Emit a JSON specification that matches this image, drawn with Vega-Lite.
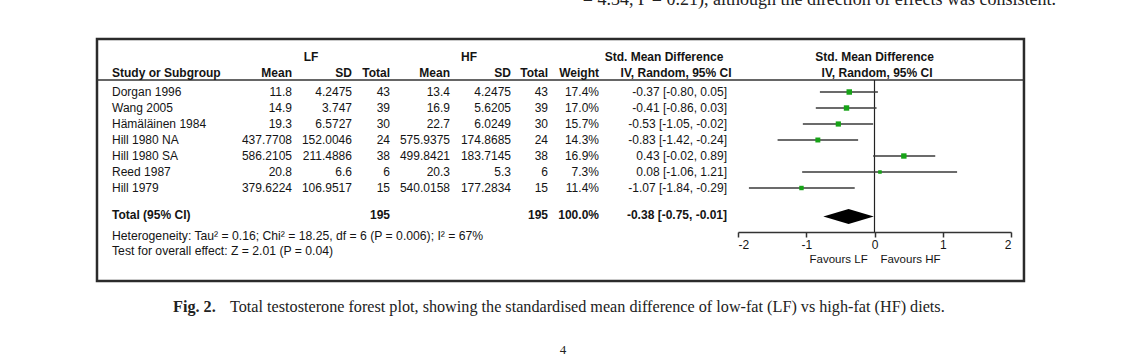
{
  "$schema": "https://vega.github.io/schema/vega-lite/v6.json",
  "width": 1124,
  "height": 358,
  "autosize": {"type": "none"},
  "padding": 0,
  "background": "white",
  "config": {
    "view": {"stroke": null},
    "text": {"font": "Liberation Sans", "fontSize": 12, "baseline": "middle", "color": "#141414"}
  },
  "resolve": {"axis": {"x": "independent", "y": "independent"}},
  "data": {"values": [{"t": "static"}]},
  "datasets": {
    "studies": [
      {"study": "Dorgan 1996", "order": 1, "lf_mean": 11.8, "lf_sd": 4.2475, "lf_n": 43, "hf_mean": 13.4, "hf_sd": 4.2475, "hf_n": 43, "weight": 0.174, "smd": -0.37, "lo": -0.80, "hi": 0.05, "ci": "-0.37 [-0.80, 0.05]"},
      {"study": "Wang 2005", "order": 2, "lf_mean": 14.9, "lf_sd": 3.747, "lf_n": 39, "hf_mean": 16.9, "hf_sd": 5.6205, "hf_n": 39, "weight": 0.170, "smd": -0.41, "lo": -0.86, "hi": 0.03, "ci": "-0.41 [-0.86, 0.03]"},
      {"study": "Hämäläinen 1984", "order": 3, "lf_mean": 19.3, "lf_sd": 6.5727, "lf_n": 30, "hf_mean": 22.7, "hf_sd": 6.0249, "hf_n": 30, "weight": 0.157, "smd": -0.53, "lo": -1.05, "hi": -0.02, "ci": "-0.53 [-1.05, -0.02]"},
      {"study": "Hill 1980 NA", "order": 4, "lf_mean": 437.7708, "lf_sd": 152.0046, "lf_n": 24, "hf_mean": 575.9375, "hf_sd": 174.8685, "hf_n": 24, "weight": 0.143, "smd": -0.83, "lo": -1.42, "hi": -0.24, "ci": "-0.83 [-1.42, -0.24]"},
      {"study": "Hill 1980 SA", "order": 5, "lf_mean": 586.2105, "lf_sd": 211.4886, "lf_n": 38, "hf_mean": 499.8421, "hf_sd": 183.7145, "hf_n": 38, "weight": 0.169, "smd": 0.43, "lo": -0.02, "hi": 0.89, "ci": "0.43 [-0.02, 0.89]"},
      {"study": "Reed 1987", "order": 6, "lf_mean": 20.8, "lf_sd": 6.6, "lf_n": 6, "hf_mean": 20.3, "hf_sd": 5.3, "hf_n": 6, "weight": 0.073, "smd": 0.08, "lo": -1.06, "hi": 1.21, "ci": "0.08 [-1.06, 1.21]"},
      {"study": "Hill 1979", "order": 7, "lf_mean": 379.6224, "lf_sd": 106.9517, "lf_n": 15, "hf_mean": 540.0158, "hf_sd": 177.2834, "hf_n": 15, "weight": 0.114, "smd": -1.07, "lo": -1.84, "hi": -0.29, "ci": "-1.07 [-1.84, -0.29]"}
    ],
    "total": [
      {"label": "Total (95% CI)", "lf_n": 195, "hf_n": 195, "weight": 1.0, "smd": -0.38, "lo": -0.75, "hi": -0.01, "ci": "-0.38 [-0.75, -0.01]"}
    ]
  },
  "layer": [
    {"mark": {"type": "rect", "filled": false, "color": "#2b2b2b", "strokeWidth": 2.5},
     "encoding": {
       "x": {"datum": -11.392, "type": "quantitative", "scale": {"domain": [-2, 2], "range": [738, 1011], "nice": false, "zero": false}, "axis": null},
       "x2": {"datum": 2.19},
       "y": {"datum": -2.3125, "type": "quantitative", "scale": {"domain": [-4.75, 17.625], "reverse": true, "nice": false, "zero": false}, "axis": null},
       "y2": {"datum": 12.8125}}},
    {"mark": {"type": "rule", "color": "#333333", "strokeWidth": 1.5},
     "encoding": {
       "x": {"datum": -11.392, "type": "quantitative", "scale": {"domain": [-2, 2], "range": [738, 1011], "nice": false, "zero": false}, "axis": null},
       "x2": {"datum": 2.19},
       "y": {"datum": 0.25, "type": "quantitative", "scale": {"domain": [-4.75, 17.625], "reverse": true, "nice": false, "zero": false}, "axis": null}}},
    {"mark": {"type": "rule", "color": "#222222", "strokeWidth": 1.2},
     "encoding": {
       "x": {"datum": 0, "type": "quantitative", "scale": {"domain": [-2, 2], "range": [738, 1011], "nice": false, "zero": false}, "axis": null},
       "y": {"datum": 0.25, "type": "quantitative", "scale": {"domain": [-4.75, 17.625], "reverse": true, "nice": false, "zero": false}, "axis": null},
       "y2": {"datum": 9.75}}},
    {"data": {"name": "studies"},
     "mark": {"type": "rule", "color": "#3a3a3a", "strokeWidth": 1.6},
     "encoding": {
       "x": {"field": "lo", "type": "quantitative", "scale": {"domain": [-2, 2], "range": [738, 1011], "nice": false, "zero": false},
             "axis": {"values": [-2, -1, 0, 1, 2], "offset": -126, "labelExpr": "'' + datum.value",
                      "title": "Favours LF\u00a0\u00a0\u00a0\u00a0Favours HF", "titleFont": "Liberation Sans", "titleFontSize": 11.5, "titleFontWeight": "normal", "titleColor": "#141414", "titlePadding": 3,
                      "labelFont": "Liberation Sans", "labelFontSize": 12, "labelColor": "#141414", "labelFlush": true, "labelPadding": 2,
                      "tickSize": 5, "tickWidth": 1.5, "tickColor": "#333333", "domainColor": "#333333", "domainWidth": 1.5, "grid": false}},
       "x2": {"field": "hi"},
       "y": {"field": "order", "type": "quantitative", "scale": {"domain": [-4.75, 17.625], "reverse": true, "nice": false, "zero": false}, "axis": null}}},
    {"data": {"name": "studies"},
     "mark": {"type": "point", "shape": "square", "filled": true, "opacity": 1, "color": "#17a317"},
     "encoding": {
       "x": {"field": "smd", "type": "quantitative", "scale": {"domain": [-2, 2], "range": [738, 1011], "nice": false, "zero": false}, "axis": null},
       "y": {"field": "order", "type": "quantitative", "scale": {"domain": [-4.75, 17.625], "reverse": true, "nice": false, "zero": false}, "axis": null},
       "size": {"field": "weight", "type": "quantitative", "scale": {"domain": [0, 0.174], "range": [0, 30]}, "legend": null}}},
    {"data": {"name": "total"},
     "mark": {"type": "point", "shape": "M-1,0L0,-0.3L1,0L0,0.3Z", "size": 2550, "filled": true, "opacity": 1, "color": "#000000"},
     "encoding": {
       "x": {"field": "smd", "type": "quantitative", "scale": {"domain": [-2, 2], "range": [738, 1011], "nice": false, "zero": false}, "axis": null},
       "y": {"datum": 8.781, "type": "quantitative", "scale": {"domain": [-4.75, 17.625], "reverse": true, "nice": false, "zero": false}, "axis": null}}},

    {"mark": {"type": "text", "text": "LF", "align": "center", "fontWeight": "bold"},
     "encoding": {"x": {"datum": -8.256, "type": "quantitative", "scale": {"domain": [-2, 2], "range": [738, 1011], "nice": false, "zero": false}, "axis": null},
                  "y": {"datum": -1.1875, "type": "quantitative", "scale": {"domain": [-4.75, 17.625], "reverse": true, "nice": false, "zero": false}, "axis": null}}},
    {"mark": {"type": "text", "text": "HF", "align": "center", "fontWeight": "bold"},
     "encoding": {"x": {"datum": -5.941, "type": "quantitative", "scale": {"domain": [-2, 2], "range": [738, 1011], "nice": false, "zero": false}, "axis": null},
                  "y": {"datum": -1.1875, "type": "quantitative", "scale": {"domain": [-4.75, 17.625], "reverse": true, "nice": false, "zero": false}, "axis": null}}},
    {"mark": {"type": "text", "text": "Std. Mean Difference", "align": "center", "fontWeight": "bold"},
     "encoding": {"x": {"datum": -3.084, "type": "quantitative", "scale": {"domain": [-2, 2], "range": [738, 1011], "nice": false, "zero": false}, "axis": null},
                  "y": {"datum": -1.1875, "type": "quantitative", "scale": {"domain": [-4.75, 17.625], "reverse": true, "nice": false, "zero": false}, "axis": null}}},
    {"mark": {"type": "text", "text": "Std. Mean Difference", "align": "center", "fontWeight": "bold"},
     "encoding": {"x": {"datum": 0, "type": "quantitative", "scale": {"domain": [-2, 2], "range": [738, 1011], "nice": false, "zero": false}, "axis": null},
                  "y": {"datum": -1.1875, "type": "quantitative", "scale": {"domain": [-4.75, 17.625], "reverse": true, "nice": false, "zero": false}, "axis": null}}},
    {"mark": {"type": "text", "text": "Study or Subgroup", "align": "left", "fontWeight": "bold"},
     "encoding": {"x": {"datum": -11.172, "type": "quantitative", "scale": {"domain": [-2, 2], "range": [738, 1011], "nice": false, "zero": false}, "axis": null},
                  "y": {"datum": -0.1875, "type": "quantitative", "scale": {"domain": [-4.75, 17.625], "reverse": true, "nice": false, "zero": false}, "axis": null}}},
    {"mark": {"type": "text", "text": "Mean", "align": "right", "fontWeight": "bold"},
     "encoding": {"x": {"datum": -8.535, "type": "quantitative", "scale": {"domain": [-2, 2], "range": [738, 1011], "nice": false, "zero": false}, "axis": null},
                  "y": {"datum": -0.1875, "type": "quantitative", "scale": {"domain": [-4.75, 17.625], "reverse": true, "nice": false, "zero": false}, "axis": null}}},
    {"mark": {"type": "text", "text": "SD", "align": "right", "fontWeight": "bold"},
     "encoding": {"x": {"datum": -7.656, "type": "quantitative", "scale": {"domain": [-2, 2], "range": [738, 1011], "nice": false, "zero": false}, "axis": null},
                  "y": {"datum": -0.1875, "type": "quantitative", "scale": {"domain": [-4.75, 17.625], "reverse": true, "nice": false, "zero": false}, "axis": null}}},
    {"mark": {"type": "text", "text": "Total", "align": "right", "fontWeight": "bold"},
     "encoding": {"x": {"datum": -7.099, "type": "quantitative", "scale": {"domain": [-2, 2], "range": [738, 1011], "nice": false, "zero": false}, "axis": null},
                  "y": {"datum": -0.1875, "type": "quantitative", "scale": {"domain": [-4.75, 17.625], "reverse": true, "nice": false, "zero": false}, "axis": null}}},
    {"mark": {"type": "text", "text": "Mean", "align": "right", "fontWeight": "bold"},
     "encoding": {"x": {"datum": -6.22, "type": "quantitative", "scale": {"domain": [-2, 2], "range": [738, 1011], "nice": false, "zero": false}, "axis": null},
                  "y": {"datum": -0.1875, "type": "quantitative", "scale": {"domain": [-4.75, 17.625], "reverse": true, "nice": false, "zero": false}, "axis": null}}},
    {"mark": {"type": "text", "text": "SD", "align": "right", "fontWeight": "bold"},
     "encoding": {"x": {"datum": -5.326, "type": "quantitative", "scale": {"domain": [-2, 2], "range": [738, 1011], "nice": false, "zero": false}, "axis": null},
                  "y": {"datum": -0.1875, "type": "quantitative", "scale": {"domain": [-4.75, 17.625], "reverse": true, "nice": false, "zero": false}, "axis": null}}},
    {"mark": {"type": "text", "text": "Total", "align": "right", "fontWeight": "bold"},
     "encoding": {"x": {"datum": -4.784, "type": "quantitative", "scale": {"domain": [-2, 2], "range": [738, 1011], "nice": false, "zero": false}, "axis": null},
                  "y": {"datum": -0.1875, "type": "quantitative", "scale": {"domain": [-4.75, 17.625], "reverse": true, "nice": false, "zero": false}, "axis": null}}},
    {"mark": {"type": "text", "text": "Weight", "align": "right", "fontWeight": "bold"},
     "encoding": {"x": {"datum": -4.037, "type": "quantitative", "scale": {"domain": [-2, 2], "range": [738, 1011], "nice": false, "zero": false}, "axis": null},
                  "y": {"datum": -0.1875, "type": "quantitative", "scale": {"domain": [-4.75, 17.625], "reverse": true, "nice": false, "zero": false}, "axis": null}}},
    {"mark": {"type": "text", "text": "IV, Random, 95% CI", "align": "center", "fontWeight": "bold"},
     "encoding": {"x": {"datum": -2.908, "type": "quantitative", "scale": {"domain": [-2, 2], "range": [738, 1011], "nice": false, "zero": false}, "axis": null},
                  "y": {"datum": -0.1875, "type": "quantitative", "scale": {"domain": [-4.75, 17.625], "reverse": true, "nice": false, "zero": false}, "axis": null}}},
    {"mark": {"type": "text", "text": "IV, Random, 95% CI", "align": "center", "fontWeight": "bold"},
     "encoding": {"x": {"datum": 0.037, "type": "quantitative", "scale": {"domain": [-2, 2], "range": [738, 1011], "nice": false, "zero": false}, "axis": null},
                  "y": {"datum": -0.1875, "type": "quantitative", "scale": {"domain": [-4.75, 17.625], "reverse": true, "nice": false, "zero": false}, "axis": null}}},

    {"data": {"name": "studies"}, "mark": {"type": "text", "align": "left"},
     "encoding": {"x": {"datum": -11.172, "type": "quantitative", "scale": {"domain": [-2, 2], "range": [738, 1011], "nice": false, "zero": false}, "axis": null},
                  "y": {"field": "order", "type": "quantitative", "scale": {"domain": [-4.75, 17.625], "reverse": true, "nice": false, "zero": false}, "axis": null},
                  "text": {"field": "study", "type": "nominal"}}},
    {"data": {"name": "studies"}, "mark": {"type": "text", "align": "right"},
     "encoding": {"x": {"datum": -8.535, "type": "quantitative", "scale": {"domain": [-2, 2], "range": [738, 1011], "nice": false, "zero": false}, "axis": null},
                  "y": {"field": "order", "type": "quantitative", "scale": {"domain": [-4.75, 17.625], "reverse": true, "nice": false, "zero": false}, "axis": null},
                  "text": {"field": "lf_mean", "type": "nominal"}}},
    {"data": {"name": "studies"}, "mark": {"type": "text", "align": "right"},
     "encoding": {"x": {"datum": -7.656, "type": "quantitative", "scale": {"domain": [-2, 2], "range": [738, 1011], "nice": false, "zero": false}, "axis": null},
                  "y": {"field": "order", "type": "quantitative", "scale": {"domain": [-4.75, 17.625], "reverse": true, "nice": false, "zero": false}, "axis": null},
                  "text": {"field": "lf_sd", "type": "nominal"}}},
    {"data": {"name": "studies"}, "mark": {"type": "text", "align": "right"},
     "encoding": {"x": {"datum": -7.099, "type": "quantitative", "scale": {"domain": [-2, 2], "range": [738, 1011], "nice": false, "zero": false}, "axis": null},
                  "y": {"field": "order", "type": "quantitative", "scale": {"domain": [-4.75, 17.625], "reverse": true, "nice": false, "zero": false}, "axis": null},
                  "text": {"field": "lf_n", "type": "nominal"}}},
    {"data": {"name": "studies"}, "mark": {"type": "text", "align": "right"},
     "encoding": {"x": {"datum": -6.22, "type": "quantitative", "scale": {"domain": [-2, 2], "range": [738, 1011], "nice": false, "zero": false}, "axis": null},
                  "y": {"field": "order", "type": "quantitative", "scale": {"domain": [-4.75, 17.625], "reverse": true, "nice": false, "zero": false}, "axis": null},
                  "text": {"field": "hf_mean", "type": "nominal"}}},
    {"data": {"name": "studies"}, "mark": {"type": "text", "align": "right"},
     "encoding": {"x": {"datum": -5.326, "type": "quantitative", "scale": {"domain": [-2, 2], "range": [738, 1011], "nice": false, "zero": false}, "axis": null},
                  "y": {"field": "order", "type": "quantitative", "scale": {"domain": [-4.75, 17.625], "reverse": true, "nice": false, "zero": false}, "axis": null},
                  "text": {"field": "hf_sd", "type": "nominal"}}},
    {"data": {"name": "studies"}, "mark": {"type": "text", "align": "right"},
     "encoding": {"x": {"datum": -4.784, "type": "quantitative", "scale": {"domain": [-2, 2], "range": [738, 1011], "nice": false, "zero": false}, "axis": null},
                  "y": {"field": "order", "type": "quantitative", "scale": {"domain": [-4.75, 17.625], "reverse": true, "nice": false, "zero": false}, "axis": null},
                  "text": {"field": "hf_n", "type": "nominal"}}},
    {"data": {"name": "studies"}, "mark": {"type": "text", "align": "right"},
     "encoding": {"x": {"datum": -4.037, "type": "quantitative", "scale": {"domain": [-2, 2], "range": [738, 1011], "nice": false, "zero": false}, "axis": null},
                  "y": {"field": "order", "type": "quantitative", "scale": {"domain": [-4.75, 17.625], "reverse": true, "nice": false, "zero": false}, "axis": null},
                  "text": {"field": "weight", "type": "quantitative", "format": ".1%"}}},
    {"data": {"name": "studies"}, "mark": {"type": "text", "align": "right"},
     "encoding": {"x": {"datum": -2.161, "type": "quantitative", "scale": {"domain": [-2, 2], "range": [738, 1011], "nice": false, "zero": false}, "axis": null},
                  "y": {"field": "order", "type": "quantitative", "scale": {"domain": [-4.75, 17.625], "reverse": true, "nice": false, "zero": false}, "axis": null},
                  "text": {"field": "ci", "type": "nominal"}}},

    {"data": {"name": "total"}, "mark": {"type": "text", "align": "left", "fontWeight": "bold"},
     "encoding": {"x": {"datum": -11.172, "type": "quantitative", "scale": {"domain": [-2, 2], "range": [738, 1011], "nice": false, "zero": false}, "axis": null},
                  "y": {"datum": 8.6875, "type": "quantitative", "scale": {"domain": [-4.75, 17.625], "reverse": true, "nice": false, "zero": false}, "axis": null},
                  "text": {"field": "label", "type": "nominal"}}},
    {"data": {"name": "total"}, "mark": {"type": "text", "align": "right", "fontWeight": "bold"},
     "encoding": {"x": {"datum": -7.099, "type": "quantitative", "scale": {"domain": [-2, 2], "range": [738, 1011], "nice": false, "zero": false}, "axis": null},
                  "y": {"datum": 8.6875, "type": "quantitative", "scale": {"domain": [-4.75, 17.625], "reverse": true, "nice": false, "zero": false}, "axis": null},
                  "text": {"field": "lf_n", "type": "nominal"}}},
    {"data": {"name": "total"}, "mark": {"type": "text", "align": "right", "fontWeight": "bold"},
     "encoding": {"x": {"datum": -4.784, "type": "quantitative", "scale": {"domain": [-2, 2], "range": [738, 1011], "nice": false, "zero": false}, "axis": null},
                  "y": {"datum": 8.6875, "type": "quantitative", "scale": {"domain": [-4.75, 17.625], "reverse": true, "nice": false, "zero": false}, "axis": null},
                  "text": {"field": "hf_n", "type": "nominal"}}},
    {"data": {"name": "total"}, "mark": {"type": "text", "align": "right", "fontWeight": "bold"},
     "encoding": {"x": {"datum": -4.037, "type": "quantitative", "scale": {"domain": [-2, 2], "range": [738, 1011], "nice": false, "zero": false}, "axis": null},
                  "y": {"datum": 8.6875, "type": "quantitative", "scale": {"domain": [-4.75, 17.625], "reverse": true, "nice": false, "zero": false}, "axis": null},
                  "text": {"field": "weight", "type": "quantitative", "format": ".1%"}}},
    {"data": {"name": "total"}, "mark": {"type": "text", "align": "right", "fontWeight": "bold"},
     "encoding": {"x": {"datum": -2.161, "type": "quantitative", "scale": {"domain": [-2, 2], "range": [738, 1011], "nice": false, "zero": false}, "axis": null},
                  "y": {"datum": 8.6875, "type": "quantitative", "scale": {"domain": [-4.75, 17.625], "reverse": true, "nice": false, "zero": false}, "axis": null},
                  "text": {"field": "ci", "type": "nominal"}}},

    {"mark": {"type": "text", "text": "Heterogeneity: Tau² = 0.16; Chi² = 18.25, df = 6 (P = 0.006); I² = 67%", "align": "left", "fontSize": 12.2},
     "encoding": {"x": {"datum": -11.172, "type": "quantitative", "scale": {"domain": [-2, 2], "range": [738, 1011], "nice": false, "zero": false}, "axis": null},
                  "y": {"datum": 10, "type": "quantitative", "scale": {"domain": [-4.75, 17.625], "reverse": true, "nice": false, "zero": false}, "axis": null}}},
    {"mark": {"type": "text", "text": "Test for overall effect: Z = 2.01 (P = 0.04)", "align": "left", "fontSize": 12.2},
     "encoding": {"x": {"datum": -11.172, "type": "quantitative", "scale": {"domain": [-2, 2], "range": [738, 1011], "nice": false, "zero": false}, "axis": null},
                  "y": {"datum": 10.9375, "type": "quantitative", "scale": {"domain": [-4.75, 17.625], "reverse": true, "nice": false, "zero": false}, "axis": null}}},

    {"mark": {"type": "text", "text": "= 4.34, P = 0.21), although the direction of effects was consistent.", "align": "right", "baseline": "alphabetic", "font": "Liberation Serif", "fontSize": 18, "color": "#222222"},
     "encoding": {"x": {"datum": 2.659, "type": "quantitative", "scale": {"domain": [-2, 2], "range": [738, 1011], "nice": false, "zero": false}, "axis": null},
                  "y": {"datum": -4.42, "type": "quantitative", "scale": {"domain": [-4.75, 17.625], "reverse": true, "nice": false, "zero": false}, "axis": null}}},
    {"mark": {"type": "text", "text": "Fig. 2.", "align": "left", "font": "Liberation Serif", "fontSize": 16.2, "fontWeight": "bold", "color": "#222222"},
     "encoding": {"x": {"datum": -10.278, "type": "quantitative", "scale": {"domain": [-2, 2], "range": [738, 1011], "nice": false, "zero": false}, "axis": null},
                  "y": {"datum": 14.4375, "type": "quantitative", "scale": {"domain": [-4.75, 17.625], "reverse": true, "nice": false, "zero": false}, "axis": null}}},
    {"mark": {"type": "text", "text": "Total testosterone forest plot, showing the standardised mean difference of low-fat (LF) vs high-fat (HF) diets.", "align": "left", "font": "Liberation Serif", "fontSize": 16.2, "color": "#222222"},
     "encoding": {"x": {"datum": -9.443, "type": "quantitative", "scale": {"domain": [-2, 2], "range": [738, 1011], "nice": false, "zero": false}, "axis": null},
                  "y": {"datum": 14.4375, "type": "quantitative", "scale": {"domain": [-4.75, 17.625], "reverse": true, "nice": false, "zero": false}, "axis": null}}},
    {"mark": {"type": "text", "text": "4", "align": "center", "font": "Liberation Serif", "fontSize": 13, "color": "#222222"},
     "encoding": {"x": {"datum": -4.564, "type": "quantitative", "scale": {"domain": [-2, 2], "range": [738, 1011], "nice": false, "zero": false}, "axis": null},
                  "y": {"datum": 17.125, "type": "quantitative", "scale": {"domain": [-4.75, 17.625], "reverse": true, "nice": false, "zero": false}, "axis": null}}}
  ]
}
